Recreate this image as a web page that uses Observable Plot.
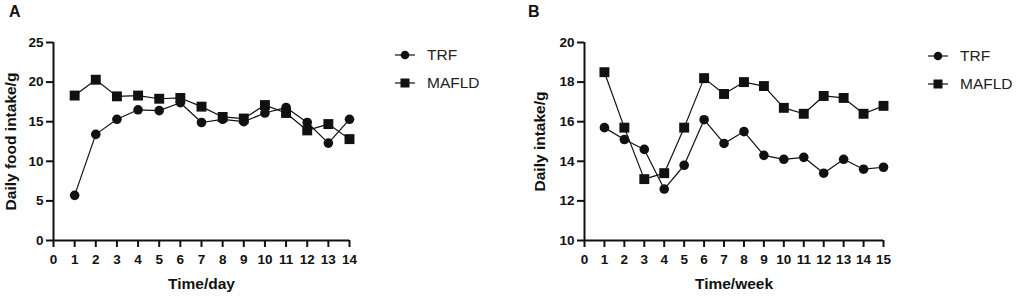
<!DOCTYPE html>
<html><head><meta charset="utf-8">
<script src="https://cdn.jsdelivr.net/npm/d3@7"></script>
<script src="https://cdn.jsdelivr.net/npm/@observablehq/plot@0.6"></script>
<style>
body{margin:0;background:#fff;font-family:"Liberation Sans",Arial,sans-serif;}
#wrap{position:relative;width:1021px;height:299px;overflow:hidden;background:#fff;}
.panel{position:absolute;top:0;}
.letter{position:absolute;font-weight:bold;font-size:16px;line-height:16px;color:#111;}
.legend{position:absolute;}
.item{display:flex;align-items:center;height:28px;font-size:15.5px;color:#222;}
.item svg{margin-right:12px;}
</style></head><body><div id="wrap"></div>
<script>
// Panel A: daily food intake over days
const daysA = [1,2,3,4,5,6,7,8,9,10,11,12,13,14];
const trfA = [5.7,13.4,15.3,16.5,16.4,17.4,14.9,15.3,15.0,16.1,16.8,14.9,12.3,15.3];
const mafldA = [18.3,20.3,18.2,18.3,17.9,18.0,16.9,15.6,15.4,17.1,16.1,13.9,14.7,12.8];
const xTicksA = [0,1,2,3,4,5,6,7,8,9,10,11,12,13,14];
const yTicksA = [0,5,10,15,20,25];

// Panel B: daily intake over weeks
const weeksB = [1,2,3,4,5,6,7,8,9,10,11,12,13,14,15];
const trfB = [15.7,15.1,14.6,12.6,13.8,16.1,14.9,15.5,14.3,14.1,14.2,13.4,14.1,13.6,13.7];
const mafldB = [18.5,15.7,13.1,13.4,15.7,18.2,17.4,18.0,17.8,16.7,16.4,17.3,17.2,16.4,16.8];
const xTicksB = [0,1,2,3,4,5,6,7,8,9,10,11,12,13,14,15];
const yTicksB = [10,12,14,16,18,20];

const seriesNames = ["TRF","MAFLD"];
const seriesSymbols = ["circle","square"];

function rowsFor(xs, a, b) {
  return [
    ...xs.map((x,i)=>({x, y:a[i], g:seriesNames[0]})),
    ...xs.map((x,i)=>({x, y:b[i], g:seriesNames[1]}))
  ];
}

function panel({rows, xDomain, yDomain, xTicks, yTicks, xLabel, yLabel, width, mL, mR, yDx}) {
  return Plot.plot({
    width, height: 299, marginLeft: mL, marginRight: mR, marginTop: 42, marginBottom: 59,
    style: {fontFamily: "'Liberation Sans', Arial, sans-serif", fontSize: "13.5px", fontWeight: "bold", color: "#111", background: "white", overflow: "visible"},
    x: {domain: xDomain},
    y: {domain: yDomain},
    marks: [
      Plot.axisX({ticks: xTicks, tickSize: 7, tickPadding: 7, strokeWidth: 2, label: null, tickFormat: d => String(d)}),
      Plot.axisY({ticks: yTicks, tickSize: 7, tickPadding: 3, strokeWidth: 2, label: null, tickFormat: d => String(d)}),
      Plot.ruleX([xDomain[0]], {strokeWidth: 2, stroke: "#111"}),
      Plot.ruleY([yDomain[0]], {strokeWidth: 2, stroke: "#111"}),
      Plot.line(rows, {x: "x", y: "y", z: "g", stroke: "#111", strokeWidth: 1.2}),
      Plot.dot(rows.filter(d => d.g === seriesNames[0]), {x: "x", y: "y", r: 4.8, fill: "#111", symbol: seriesSymbols[0]}),
      Plot.dot(rows.filter(d => d.g === seriesNames[1]), {x: "x", y: "y", r: 5.6, fill: "#111", symbol: seriesSymbols[1]}),
      Plot.text([xLabel], {frameAnchor: "bottom", dy: 44, lineAnchor: "middle", textAnchor: "middle", fontSize: 15.5, fontWeight: "bold", fill: "#111"}),
      Plot.text([yLabel], {frameAnchor: "left", dx: yDx, rotate: -90, lineAnchor: "middle", textAnchor: "middle", fontSize: 15.5, fontWeight: "bold", fill: "#111"})
    ]
  });
}

const wrap = document.getElementById("wrap");

function place(el, left) {
  const d = document.createElement("div");
  d.className = "panel";
  d.style.left = left + "px";
  d.appendChild(el);
  wrap.appendChild(d);
}

place(panel({rows: rowsFor(daysA, trfA, mafldA), xDomain: [0,14], yDomain: [0,25], xTicks: xTicksA, yTicks: yTicksA,
  xLabel: "Time/day", yLabel: "Daily food intake/g", width: 370, mL: 53, mR: 21, yDx: -42}), 0);
place(panel({rows: rowsFor(weeksB, trfB, mafldB), xDomain: [0,15], yDomain: [10,20], xTicks: xTicksB, yTicks: yTicksB,
  xLabel: "Time/week", yLabel: "Daily intake/g", width: 395, mL: 84, mR: 12, yDx: -44}), 500);

function letter(t, left) {
  const d = document.createElement("div");
  d.className = "letter";
  d.textContent = t;
  d.style.left = left + "px";
  d.style.top = "4px";
  wrap.appendChild(d);
}
letter("A", 9);
letter("B", 528);

function legend(left, top) {
  const box = document.createElement("div");
  box.className = "legend";
  box.style.left = left + "px";
  box.style.top = top + "px";
  seriesNames.forEach((name, i) => {
    const row = document.createElement("div");
    row.className = "item";
    const sym = seriesSymbols[i] === "circle"
      ? '<circle cx="10" cy="6" r="4.3" fill="#111"/>'
      : '<rect x="5.5" y="1.5" width="9" height="9" fill="#111"/>';
    row.innerHTML = '<svg width="20" height="12"><line x1="0" x2="20" y1="6" y2="6" stroke="#111" stroke-width="1.2"/>' + sym + '</svg><span></span>';
    row.querySelector("span").textContent = name;
    box.appendChild(row);
  });
  wrap.appendChild(box);
}
legend(395, 41);
legend(928, 42);
</script></body></html>
